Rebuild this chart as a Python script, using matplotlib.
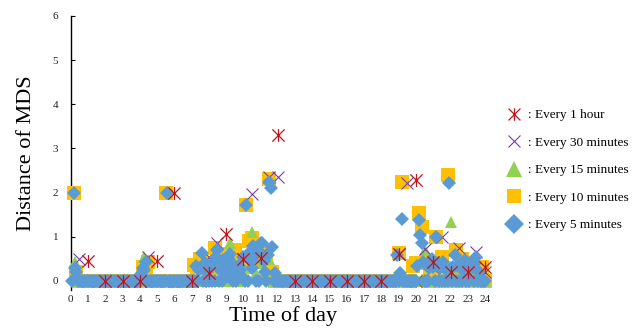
import numpy as np
import matplotlib.pyplot as plt
from matplotlib.path import Path
from matplotlib.lines import Line2D

plt.rcParams['font.family'] = ['Liberation Serif', 'DejaVu Serif']

# Distance of MDS readings, one row per hour of the day (hour h covers (h, h+1])
every_1h = [0.45, 0, 0, 0, 0.45, 2.0, 0, 0.17, 1.07, 0.49, 0.51, 3.3,
            0, 0, 0, 0, 0, 0, 0.62, 2.28, 0.42, 0.21, 0.21, 0.31]

every_30m = [
    [0.49, 0], [0, 0], [0, 0], [0, 0], [0.55, 0], [0, 0],
    [0, 0], [0, 0.55], [0.85, 0.3], [0.4, 0.5], [1.97, 0.6], [2.36, 2.35],
    [0, 0], [0, 0], [0, 0], [0, 0], [0, 0], [0, 0],
    [0, 0.61], [2.22, 0], [0.72, 0.3], [0.99, 0.2], [0.74, 0.2], [0.66, 0.2],
]

every_15m = [
    [0.44, 0, 0, 0], [0, 0, 0, 0], [0, 0, 0, 0], [0, 0, 0, 0],
    [0.55, 0, 0, 0], [0, 0, 0, 0], [0, 0, 0, 0], [0, 0, 0, 0],
    [0, 0, 0, 0], [0.86, 0.3, 0, 0.14], [0.3, 1.1, 0.17, 0.4], [0.2, 0.5, 0, 0],
    [0, 0, 0, 0], [0, 0, 0, 0], [0, 0, 0, 0], [0, 0, 0, 0],
    [0, 0, 0, 0], [0, 0, 0, 0], [0, 0, 0, 0], [0, 0, 0, 0],
    [0, 0.7, 0, 0], [0, 0, 0, 1.34], [0.3, 0, 0.2, 0], [0, 0, 0, 0],
]

every_10m = [
    [2.0, 0.2, 0, 0, 0, 0], [0, 0, 0, 0, 0, 0], [0, 0, 0, 0, 0, 0],
    [0, 0, 0, 0, 0, 0], [0.32, 0.3, 0.42, 0, 0, 0], [0, 0, 2.0, 0, 0, 0],
    [0, 0, 0, 0, 0, 0], [0.36, 0.3, 0.5, 0.4, 0.3, 0.2], [0.4, 0.75, 0.5, 0.6, 0.3, 0.2],
    [0.4, 0.6, 0.7, 0.3, 0.2, 0.5], [1.72, 0.9, 0.97, 0.75, 0.45, 0.5], [0.7, 0.45, 2.3, 0.2, 0, 0],
    [0, 0, 0, 0, 0, 0], [0, 0, 0, 0, 0, 0], [0, 0, 0, 0, 0, 0],
    [0, 0, 0, 0, 0, 0], [0, 0, 0, 0, 0, 0], [0, 0, 0, 0, 0, 0],
    [0, 0, 0, 0, 0, 0.63], [2.25, 0, 0, 0, 0.35, 0.4], [1.53, 1.23, 0.4, 0, 0.3, 0],
    [1.0, 0, 0.55, 0, 2.4, 0], [0, 0.7, 0, 0.5, 0, 0.3], [0, 0.4, 0, 0, 0.32, 0],
]

every_5m = [
    [0, 2.0, 0.3, 0.2, 0, 0, 0, 0, 0, 0, 0, 0],
    [0, 0, 0, 0, 0, 0, 0, 0, 0, 0, 0, 0],
    [0, 0, 0, 0, 0, 0, 0, 0, 0, 0, 0, 0],
    [0, 0, 0, 0, 0, 0, 0, 0, 0, 0, 0, 0],
    [0.15, 0.3, 0.25, 0.44, 0, 0, 0, 0, 0, 0, 0, 0],
    [0, 0, 0, 0, 0, 0, 2.0, 0, 0, 0, 0, 0],
    [0, 0, 0, 0, 0, 0, 0, 0, 0, 0, 0, 0],
    [0, 0, 0.35, 0, 0.25, 0.3, 0.64, 0, 0.4, 0, 0.2, 0],
    [0.32, 0, 0.4, 0, 0.55, 0.7, 0, 0.25, 0, 0.47, 0.3, 0.1],
    [0.51, 0.2, 0.6, 0.4, 0, 0.3, 0, 0.2, 0.35, 0.25, 0.1, 0.55],
    [0, 1.72, 0, 0.63, 0.45, 0.29, 0.8, 0.6, 0, 0.7, 0, 0.86],
    [0.85, 0.45, 0.2, 0, 0.59, 2.25, 2.1, 0.78, 0, 0.17, 0, 0],
    [0, 0, 0, 0, 0, 0, 0, 0, 0, 0, 0, 0],
    [0, 0, 0, 0, 0, 0, 0, 0, 0, 0, 0, 0],
    [0, 0, 0, 0, 0, 0, 0, 0, 0, 0, 0, 0],
    [0, 0, 0, 0, 0, 0, 0, 0, 0, 0, 0, 0],
    [0, 0, 0, 0, 0, 0, 0, 0, 0, 0, 0, 0],
    [0, 0, 0, 0, 0, 0, 0, 0, 0, 0, 0, 0],
    [0, 0, 0, 0, 0, 0, 0, 0, 0, 0, 0.59, 0],
    [0.18, 1.4, 0, 0, 0, 0, 0, 0, 0, 0, 0, 0],
    [0.35, 1.38, 1.04, 0.87, 0.44, 0, 0, 0, 0.3, 0.45, 0.5, 0.32],
    [0, 0.99, 0.4, 0, 0.3, 0, 0.44, 0, 0.25, 0, 2.21, 0.3],
    [0, 0.32, 0.59, 0, 0.35, 0, 0.4, 0, 0.25, 0.48, 0, 0.2],
    [0, 0.3, 0.36, 0, 0.4, 0.55, 0, 0.2, 0, 0, 0, 0],
]

labels = [': Every 1 hour', ': Every 30 minutes', ': Every 15 minutes',
          ': Every 10 minutes', ': Every 5 minutes']
hours = list(range(25))

# Excel style star: vertical bar plus an x
star = Path([(0, -1), (0, 1), (-0.95, -0.95), (0.95, 0.95), (-0.95, 0.95), (0.95, -0.95)],
            [Path.MOVETO, Path.LINETO] * 3)

red, purple, green, orange, blue = '#C0141C', '#7A3DA8', '#92D050', '#FFC000', '#5B9BD5'


def series(rows):
    v = np.ravel(rows)
    per_hour = len(v) / 24
    t = np.arange(1, len(v) + 1) / per_hour
    return t, v


fig = plt.figure(figsize=(6.32, 3.29), dpi=100)
ax = fig.add_axes([0.1119, 0.1191, 0.672, 0.8328])

t, v = series(every_10m)
ax.plot(t, v, ls='none', marker='s', ms=9.6, mfc=orange, mec=orange, mew=0, zorder=3, clip_on=False)
t, v = series(every_15m)
ax.plot(t, v, ls='none', marker='^', ms=8.5, mfc=green, mec=green, mew=0, zorder=4, clip_on=False)
t, v = series(every_30m)
ax.plot(t, v, ls='none', marker='x', ms=8.4, mec=purple, mew=0.8, zorder=5, clip_on=False)
t, v = series(every_5m)
ax.plot(t, v, ls='none', marker='D', ms=7.4, mfc=blue, mec=blue, mew=0, zorder=6, clip_on=False)
t, v = series(every_1h)
ax.plot(t, v, ls='none', marker=star, ms=9.3, mec=red, mew=0.9, zorder=7, clip_on=False)

ax.set_xlim(0, 24.6)
ax.set_ylim(-0.2, 6)
ax.set_xticks(hours)
ax.set_yticks(range(7))
ax.tick_params(axis='x', length=0, pad=4, labelsize=8, labelcolor='#222222')
ax.tick_params(axis='y', direction='in', length=3, width=0.8, pad=9, labelsize=8, labelcolor='#222222')
for s in ['top', 'right', 'bottom']:
    ax.spines[s].set_visible(False)
ax.spines['left'].set_linewidth(1.0)
ax.set_xlabel('Time of day', fontsize=16, labelpad=1)
ax.set_ylabel('Distance of MDS', fontsize=16, labelpad=12)

handles = [
    Line2D([], [], ls='none', marker=star, ms=9, mec=red, mew=0.9),
    Line2D([], [], ls='none', marker='x', ms=8, mec=purple, mew=0.8),
    Line2D([], [], ls='none', marker='^', ms=11, mfc=green, mec=green, mew=0),
    Line2D([], [], ls='none', marker='s', ms=10, mfc=orange, mec=orange, mew=0),
    Line2D([], [], ls='none', marker='D', ms=10.5, mfc=blue, mec=blue, mew=0),
]
fig.legend(handles, labels, loc='upper left', bbox_to_anchor=(0.7805, 0.704),
           frameon=False, fontsize=9.5, labelspacing=1.15, handlelength=1.4,
           handletextpad=0.35)

fig.savefig('out.png', dpi=100)
